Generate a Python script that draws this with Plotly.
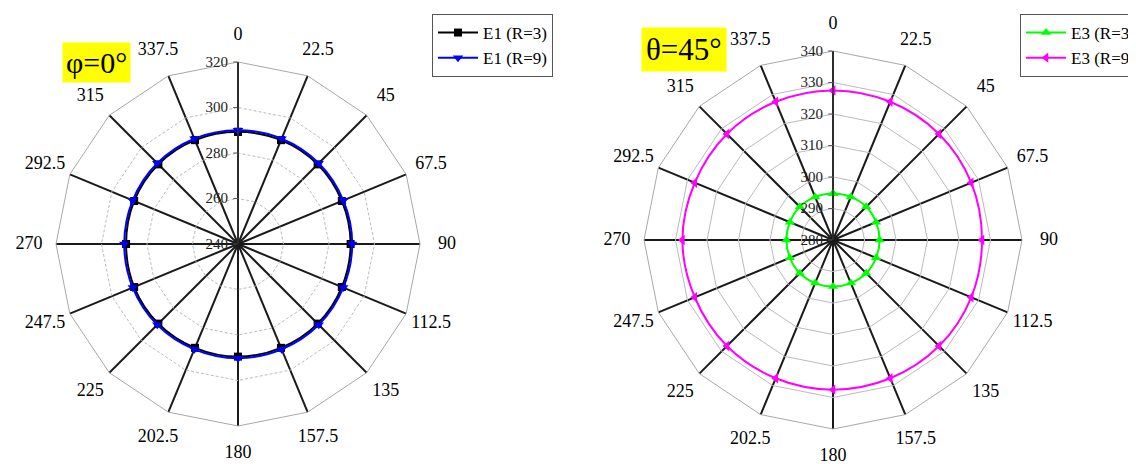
import plotly.graph_objects as go

angles = ["0", "22.5", "45", "67.5", "90", "112.5", "135", "157.5",
          "180", "202.5", "225", "247.5", "270", "292.5", "315", "337.5"]

e1_r3 = [289.3, 289.4, 289.5, 289.4, 289.5, 289.4, 289.5, 289.4,
         289.5, 289.4, 289.5, 289.4, 289.2, 289.4, 289.5, 289.4]
e1_r9 = [290.0, 290.1, 290.2, 290.1, 290.2, 290.1, 290.2, 290.1,
         290.2, 290.1, 290.2, 290.1, 290.0, 290.1, 290.2, 290.1]
e3_r3 = [294.8, 294.8, 294.9, 294.8, 294.8, 294.8, 294.9, 294.8,
         294.8, 294.8, 294.9, 294.8, 294.8, 294.8, 294.9, 294.8]
e3_r9 = [327.5, 327.5, 327.6, 327.5, 327.3, 327.5, 327.6, 327.5,
         327.5, 327.5, 327.6, 327.5, 327.8, 327.5, 327.6, 327.5]

left_range = [240, 320]
right_range = [280, 340]

SERIF = "Liberation Serif"

# page body has an 8px margin; figure is sized so it ends at the window edge
W, H = 1128, 456
OFF = 8

LEFT_C, LEFT_R = (238, 244), 182
RIGHT_C, RIGHT_R = (833, 240), 189
LABEL_GAP = 27


def px(sx):
    return (sx - OFF) / W


def py(sy):
    return 1 - (sy - OFF) / H


def dom(c, r):
    return dict(x=[px(c[0] - r), px(c[0] + r)], y=[py(c[1] + r), py(c[1] - r)])


def closed(v):
    return list(v) + [v[0]]


fig = go.Figure()

fig.add_trace(go.Scatterpolar(
    r=closed(e1_r3), theta=closed(angles), subplot="polar", legend="legend",
    name="E1 (R=3)", mode="lines+markers",
    line=dict(color="black", width=2, shape="spline"),
    marker=dict(symbol="square", size=8, color="black")))
fig.add_trace(go.Scatterpolar(
    r=closed(e1_r9), theta=closed(angles), subplot="polar", legend="legend",
    name="E1 (R=9)", mode="lines+markers",
    line=dict(color="#0000ff", width=2, shape="spline"),
    marker=dict(symbol="triangle-down", size=9, color="#0000ff")))
fig.add_trace(go.Scatterpolar(
    r=closed(e3_r3), theta=closed(angles), subplot="polar2", legend="legend2",
    name="E3 (R=3)", mode="lines+markers",
    line=dict(color="#00ff00", width=2, shape="spline"),
    marker=dict(symbol="triangle-up", size=9, color="#00ff00")))
fig.add_trace(go.Scatterpolar(
    r=closed(e3_r9), theta=closed(angles), subplot="polar2", legend="legend2",
    name="E3 (R=9)", mode="lines+markers",
    line=dict(color="#ff00ff", width=2, shape="spline"),
    marker=dict(symbol="triangle-left", size=9, color="#ff00ff")))

# angular tick labels: drawn on transparent overlay polar subplots whose outer
# edge lies a little outside each chart's outer polygon
for sub in ("polar3", "polar4"):
    fig.add_trace(go.Scatterpolar(
        r=[1] * len(angles), theta=angles, subplot=sub,
        mode="text", text=angles, textposition="middle center",
        textfont=dict(family=SERIF, size=18, color="black"),
        cliponaxis=False, showlegend=False, hoverinfo="skip"))


def polar_cfg(rng, dtick, domain, griddash):
    return dict(
        domain=domain,
        gridshape="linear",
        bgcolor="white",
        angularaxis=dict(
            type="category", categoryarray=angles, categoryorder="array",
            direction="clockwise", rotation=90,
            showline=True, linecolor="#a8a8a8", linewidth=1,
            showgrid=True, gridcolor="#1a1a1a", gridwidth=1.6,
            ticks="", showticklabels=False,
        ),
        radialaxis=dict(
            range=rng, dtick=dtick, tick0=rng[0], angle=90,
            side="counterclockwise",
            showline=True, linecolor="#333333", linewidth=1.5,
            showgrid=True, gridcolor="#bbbbbb", gridwidth=1, griddash=griddash,
            ticks="outside", ticklen=4, tickcolor="#555555",
            tickfont=dict(family=SERIF, size=15, color="#222222"),
            tickangle=90,
        ),
    )


def label_polar_cfg(domain):
    return dict(
        domain=domain,
        gridshape="linear",
        bgcolor="rgba(0,0,0,0)",
        angularaxis=dict(
            type="category", categoryarray=angles, categoryorder="array",
            direction="clockwise", rotation=90,
            showline=False, showgrid=False, ticks="", showticklabels=False,
        ),
        radialaxis=dict(range=[0, 1], visible=False, showgrid=False,
                        showline=False, showticklabels=False, ticks=""),
    )


fig.update_layout(
    width=W, height=H,
    margin=dict(l=0, r=0, t=0, b=0, autoexpand=False),
    paper_bgcolor="white",
    polar=polar_cfg(left_range, 20, dom(LEFT_C, LEFT_R), "3px,2px"),
    polar2=polar_cfg(right_range, 10, dom(RIGHT_C, RIGHT_R), "solid"),
    polar3=label_polar_cfg(dom(LEFT_C, LEFT_R + LABEL_GAP)),
    polar4=label_polar_cfg(dom(RIGHT_C, RIGHT_R + LABEL_GAP)),
    legend=dict(x=px(432), y=py(14), xanchor="left", yanchor="top",
                bordercolor="#555555", borderwidth=1, bgcolor="white",
                font=dict(family=SERIF, size=17, color="black"),
                itemwidth=40, tracegroupgap=0),
    legend2=dict(x=px(1020), y=py(14), xanchor="left", yanchor="top",
                 bordercolor="#555555", borderwidth=1, bgcolor="white",
                 font=dict(family=SERIF, size=17, color="black"),
                 itemwidth=40, tracegroupgap=0),
    annotations=[
        dict(text="φ=0°", x=px(96), y=py(62), xref="paper", yref="paper",
             xanchor="center", yanchor="middle", showarrow=False,
             bgcolor="#ffff00", font=dict(family=SERIF, size=30, color="black"),
             borderpad=3),
        dict(text="θ=45°", x=px(684), y=py(49), xref="paper", yref="paper",
             xanchor="center", yanchor="middle", showarrow=False,
             bgcolor="#ffff00", font=dict(family=SERIF, size=31, color="black"),
             borderpad=4),
    ],
)

fig.write_html("out.html")
